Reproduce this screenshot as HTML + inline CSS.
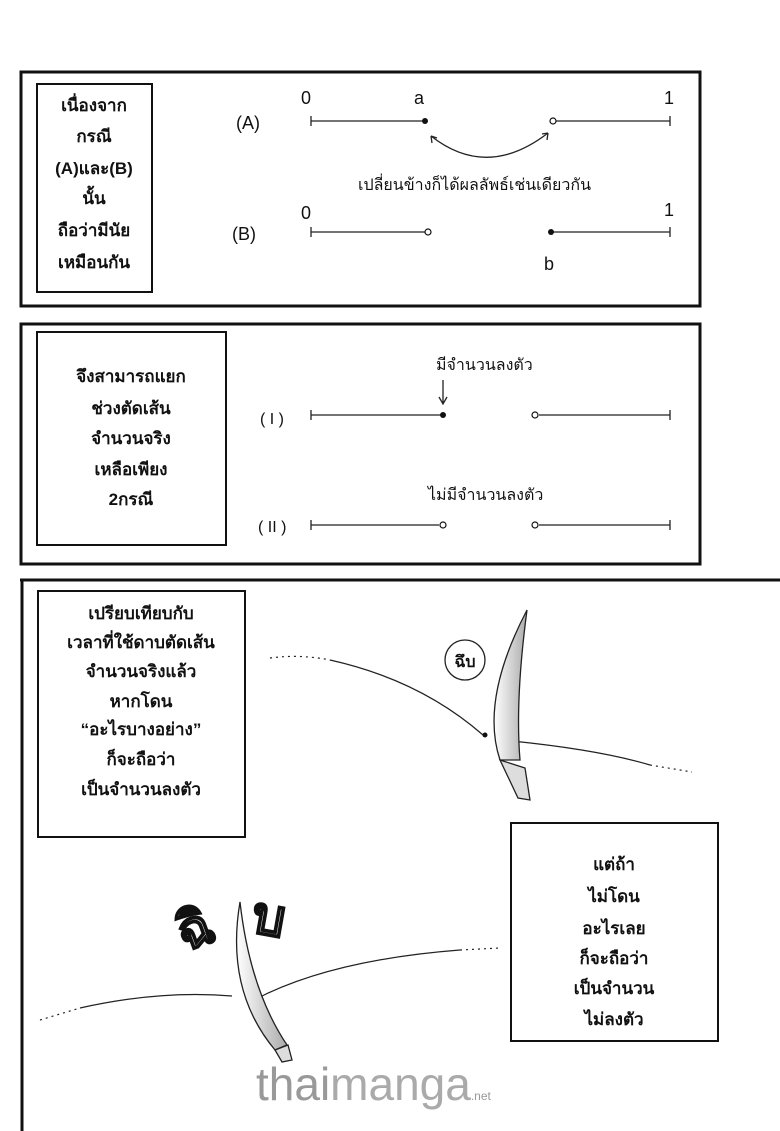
<!DOCTYPE html>
<html><head><meta charset="utf-8"><style>
body{margin:0;background:#fff;width:780px;height:1131px;overflow:hidden}
svg{display:block}
.t{font-family:"Liberation Sans","Noto Sans CJK SC",sans-serif;font-weight:bold;fill:#111}
.n{font-family:"Liberation Sans","Noto Sans CJK SC",sans-serif;fill:#111}
.sfx{font-family:"Liberation Sans","Noto Sans CJK SC",sans-serif;font-weight:bold;fill:#fff;stroke:#111;stroke-width:2}
</style></head><body>
<svg width="780" height="1131" viewBox="0 0 780 1131" xmlns="http://www.w3.org/2000/svg">
<defs><linearGradient id="g" x1="0" x2="1"><stop offset="0" stop-color="#fff"/><stop offset="1" stop-color="#aaa"/></linearGradient></defs>
<g fill="none" stroke="#111">
<rect x="21" y="72" width="679" height="234" stroke-width="3"/>
<rect x="37" y="84" width="115" height="208" stroke-width="2"/>
<rect x="21" y="324" width="679" height="240" stroke-width="3"/>
<rect x="37" y="332" width="189" height="213" stroke-width="2"/>
<path d="M20 580H780M22 580V1131" stroke-width="3"/>
<rect x="38" y="591" width="207" height="246" stroke-width="2"/>
<rect x="511" y="823" width="207" height="218" stroke-width="2"/>
</g>
<g stroke="#222" stroke-width="1.3" fill="none">
<path d="M311 121H425M311 116v10M553 121H670M670 116v10"/>
<path d="M431 136Q487 180 548 133"/>
<path d="M431 136l1 7M431 136l6 2M548 133l-6 1M548 133l-1 7"/>
<path d="M311 232H425M311 227v10M551 232H670M670 227v10"/>
<path d="M311 415H443M311 410v10M539 415H670M670 410v10"/>
<path d="M443 380V403M439 397l4 7 4-7"/>
<path d="M311 525H439M311 520v10M539 525H670M670 520v10"/>
</g>
<g fill="#111"><circle cx="425" cy="121" r="3"/><circle cx="551" cy="232" r="3"/><circle cx="443" cy="415" r="3"/></g>
<g fill="#fff" stroke="#111" stroke-width="1.2"><circle cx="553" cy="121" r="3"/><circle cx="428" cy="232" r="3"/><circle cx="535" cy="415" r="3"/><circle cx="443" cy="525" r="3"/><circle cx="535" cy="525" r="3"/></g>
<g class="n" font-size="18"><text x="301" y="104">0</text><text x="414" y="104">a</text><text x="664" y="104">1</text>
<text x="236" y="129">(A)</text><text x="301" y="219">0</text><text x="664" y="216">1</text><text x="232" y="240">(B)</text><text x="544" y="270">b</text>
<text x="260" y="424" font-size="16">( I )</text><text x="258" y="532" font-size="16">( II )</text></g>
<g class="n" font-size="16"><text x="358" y="190">เปลี่ยนข้างก็ได้ผลลัพธ์เช่นเดียวกัน</text>
<text x="436" y="370">มีจำนวนลงตัว</text><text x="428" y="500">ไม่มีจำนวนลงตัว</text></g>
<g class="t" font-size="17" text-anchor="middle">
<text x="94" y="111">เนื่องจาก</text><text x="94" y="142">กรณี</text><text x="94" y="174">(A)และ(B)</text><text x="94" y="204">นั้น</text><text x="94" y="236">ถือว่ามีนัย</text><text x="94" y="268">เหมือนกัน</text>
<text x="131" y="382">จึงสามารถแยก</text><text x="131" y="414">ช่วงตัดเส้น</text><text x="131" y="444">จำนวนจริง</text><text x="131" y="475">เหลือเพียง</text><text x="131" y="505">2กรณี</text>
<text x="141" y="619">เปรียบเทียบกับ</text><text x="141" y="648">เวลาที่ใช้ดาบตัดเส้น</text><text x="141" y="677">จำนวนจริงแล้ว</text><text x="141" y="707">หากโดน</text><text x="141" y="735">“อะไรบางอย่าง”</text><text x="141" y="765">ก็จะถือว่า</text><text x="141" y="795">เป็นจำนวนลงตัว</text>
<text x="614" y="870">แต่ถ้า</text><text x="614" y="902">ไม่โดน</text><text x="614" y="934">อะไรเลย</text><text x="614" y="964">ก็จะถือว่า</text><text x="614" y="994">เป็นจำนวน</text><text x="614" y="1025">ไม่ลงตัว</text>
</g>
<g stroke="#222" stroke-width="1.2" fill="none">
<path d="M270 658Q300 654 330 660" stroke-dasharray="2 4"/>
<path d="M330 660Q420 680 483 735"/>
<path d="M512 741Q600 750 650 765"/><path d="M650 765L692 772" stroke-dasharray="2 4"/>
<path d="M40 1020L80 1008" stroke-dasharray="2 4"/><path d="M80 1008Q160 990 232 996"/>
<path d="M254 1000Q330 960 460 950"/><path d="M460 950L500 948" stroke-dasharray="2 4"/>
</g>
<circle cx="485" cy="735" r="2.5" fill="#111"/>
<g stroke="#222" stroke-width="1.3">
<path d="M527 610Q480 700 500 760L520 760Q515 700 527 610Z" fill="url(#g)"/>
<path d="M500 760L525 768L530 800L518 798Z" fill="#ddd"/>
<path d="M240 902Q225 990 275 1050L287 1045Q250 990 240 902Z" fill="url(#g)"/>
<path d="M275 1050L288 1045L292 1060L282 1062Z" fill="#ddd"/>
<circle cx="465" cy="660" r="20" fill="#fff"/>
</g>
<text x="465" y="667" class="t" font-size="16" text-anchor="middle">ฉึบ</text>
<text x="178" y="945" class="sfx" font-size="52" transform="rotate(-20 200 930)">ฉิ</text>
<text x="252" y="935" class="sfx" font-size="52" transform="rotate(10 270 920)">บ</text>
<text x="256" y="1100" font-family="Liberation Sans,sans-serif" font-size="46" fill="#999" letter-spacing="0">thai<tspan fill="#aaa">manga</tspan><tspan font-size="12">.net</tspan></text>
</svg>
</body></html>
